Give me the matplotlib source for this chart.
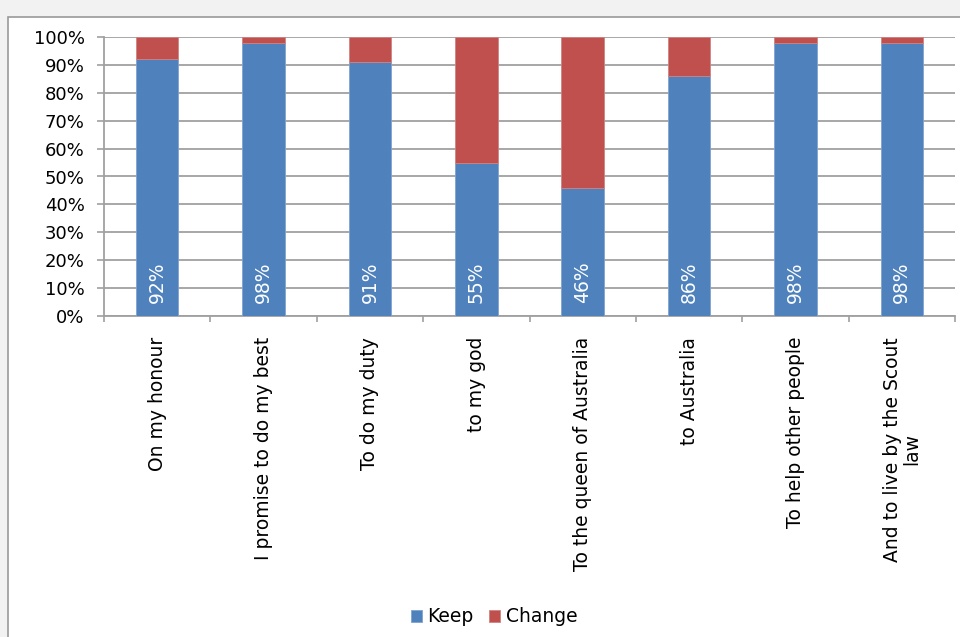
import matplotlib.pyplot as plt
from matplotlib.patches import Rectangle
import numpy as np

categories = ["On my honour", "I promise to do my best", "To do my duty", "to my god",
              "To the queen of Australia", "to Australia", "To help other people",
              "And to live by the Scout\nlaw"]
keep = [92, 98, 91, 55, 46, 86, 98, 98]
change = [100 - k for k in keep]
y_ticks = [0, 10, 20, 30, 40, 50, 60, 70, 80, 90, 100]

BLUE = "#4F81BD"
RED = "#C0504D"
GRID = "#A0A0A0"

fig = plt.figure(figsize=(9.6, 6.37), dpi=100)
fig.patch.set_facecolor("#F2F2F2")

# white chart panel with a grey border
W, H = 960, 637
panel = Rectangle((8 / W, -0.1), 1.0, 1.1 - 17 / H, transform=fig.transFigure,
                  facecolor="white", edgecolor="#9A9A9A", linewidth=1.2, zorder=-5)
fig.patches.append(panel)

ax = fig.add_axes([104 / W, 1 - 316 / H, (955 - 104) / W, (316 - 37) / H])
ax.set_facecolor("none")

x = np.arange(len(categories))
ax.bar(x, keep, width=0.4, color=BLUE, edgecolor="#7FA3D0", linewidth=0.6, zorder=3, label="Keep")
ax.bar(x, change, width=0.4, bottom=keep, color=RED, edgecolor="#D08280", linewidth=0.6,
       zorder=3, label="Change")

for xi, k in zip(x, keep):
    ax.text(xi, 4.5, f"{k}%", rotation=90, ha="center", va="bottom", color="white",
            fontsize=13.5, zorder=4)

ax.set_xlim(-0.5, len(categories) - 0.5)
ax.set_ylim(0, 100)
ax.set_yticks(y_ticks)
ax.set_yticklabels([f"{t}%" for t in y_ticks], fontsize=13)
ax.yaxis.grid(True, color=GRID, linewidth=1.3, zorder=1)
ax.set_axisbelow(True)

# category labels between boundary ticks
ax.set_xticks(np.arange(len(categories) + 1) - 0.5)
ax.set_xticklabels([])
ax.tick_params(axis="x", length=4, color=GRID, width=1.2, direction="out")
ax.set_xticks(x, minor=True)
ax.set_xticklabels(categories, minor=True, rotation=90, fontsize=13.5, ha="center",
                   va="top", multialignment="center", linespacing=1.0)
ax.tick_params(axis="x", which="minor", length=0, pad=15)
ax.tick_params(axis="y", length=5, color=GRID, width=1.2, pad=9)

for side in ["top", "right"]:
    ax.spines[side].set_visible(False)
for side in ["left", "bottom"]:
    ax.spines[side].set_color(GRID)
    ax.spines[side].set_linewidth(1.3)

fig.legend(loc="center", bbox_to_anchor=(494 / W, 1 - 617 / H), ncol=2, frameon=False,
           fontsize=13.5, handlelength=0.6, handleheight=0.6, handletextpad=0.3,
           columnspacing=0.8)

fig.savefig("out.png", dpi=100, facecolor=fig.get_facecolor())
